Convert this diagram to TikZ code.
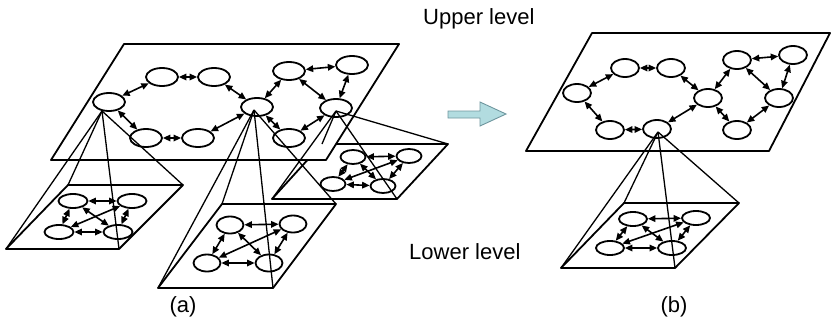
\documentclass[tikz,border=0pt]{standalone}
\usepackage{fontspec}
\setmainfont{Liberation Sans}
\usetikzlibrary{shapes.geometric,arrows.meta}
\definecolor{arrfill}{RGB}{178,220,224}
\definecolor{arrdraw}{RGB}{110,150,158}
\begin{document}
\begin{tikzpicture}[x=1pt,y=-1pt,
  nd/.style={ellipse,draw,fill=white,line width=1.8pt,inner sep=0pt},
  ua/.style={nd,minimum width=32pt,minimum height=18pt},
  ub/.style={nd,minimum width=28pt,minimum height=18pt},
  la/.style={nd,minimum width=29pt,minimum height=14pt},
  lb/.style={nd,minimum width=27pt,minimum height=17pt},
  lc/.style={nd,minimum width=25pt,minimum height=14pt},
  ld/.style={nd,minimum width=28pt,minimum height=14pt},
  lk/.style={{Triangle[length=7.5pt,width=6.5pt]}-{Triangle[length=7.5pt,width=6.5pt]},line width=1.6pt},
  plane/.style={draw,fill=white,line width=1.8pt,line join=round},
  pyr/.style={line width=1.3pt},
  lbl/.style={font=\fontsize{22}{26}\selectfont,inner sep=0pt}
]
\useasboundingbox (0,0) rectangle (831,322);

% ---------- planes ----------
\coordinate (q3a) at (322,144); \coordinate (q3b) at (448,144);
\coordinate (q3c) at (397,199); \coordinate (q3d) at (272,199);
\path[plane] (q3a) -- (q3b) -- (q3c) -- (q3d) -- cycle;

\coordinate (ua1) at (124,44); \coordinate (ua2) at (399,44);
\coordinate (ua3) at (326,160); \coordinate (ua4) at (51,160);
\path[plane] (ua1) -- (ua2) -- (ua3) -- (ua4) -- cycle;

\coordinate (q1a) at (68,185); \coordinate (q1b) at (183,185);
\coordinate (q1c) at (119,249); \coordinate (q1d) at (6,249);
\path[plane] (q1a) -- (q1b) -- (q1c) -- (q1d) -- cycle;

\coordinate (q2a) at (222,204); \coordinate (q2b) at (336,204);
\coordinate (q2c) at (273,288); \coordinate (q2d) at (158,288);
\path[plane] (q2a) -- (q2b) -- (q2c) -- (q2d) -- cycle;

\coordinate (ub1) at (592,33); \coordinate (ub2) at (830,33);
\coordinate (ub3) at (769,151); \coordinate (ub4) at (526,151);
\path[plane] (ub1) -- (ub2) -- (ub3) -- (ub4) -- cycle;

\coordinate (qba) at (624,203); \coordinate (qbb) at (739,203);
\coordinate (qbc) at (675,268); \coordinate (qbd) at (561,268);
\path[plane] (qba) -- (qbb) -- (qbc) -- (qbd) -- cycle;

% ---------- upper graph (a) ----------
\node[ua] (aL)  at (109,102) {};
\node[ua] (aT1) at (162,77) {};
\node[ua] (aT2) at (214,77) {};
\node[ua] (aM)  at (257,107) {};
\node[ua] (aB1) at (146,138) {};
\node[ua] (aB2) at (198,138) {};
\node[ua] (aU1) at (289,71) {};
\node[ua] (aU2) at (352,65) {};
\node[ua] (aR)  at (336,108) {};
\node[ua] (aD)  at (289,138) {};
\foreach \s/\t in {aL/aT1,aT1/aT2,aT2/aM,aM/aB2,aB2/aB1,aB1/aL,aM/aU1,aU1/aU2,aU2/aR,aU1/aR,aR/aD,aD/aM}
  \draw[lk] (\s) -- (\t);

% ---------- upper graph (b) ----------
\node[ub] (bL)  at (577,93) {};
\node[ub] (bT1) at (625,68) {};
\node[ub] (bT2) at (671,68) {};
\node[ub] (bM)  at (708,98) {};
\node[ub] (bB1) at (610,130) {};
\node[ub] (bB2) at (657,129) {};
\node[ub] (bU1) at (737,60) {};
\node[ub] (bU2) at (793,55) {};
\node[ub] (bR)  at (779,98) {};
\node[ub] (bD)  at (737,130) {};
\foreach \s/\t in {bL/bT1,bT1/bT2,bT2/bM,bM/bB2,bB2/bB1,bB1/bL,bM/bU1,bU1/bU2,bU2/bR,bU1/bR,bR/bD,bD/bM}
  \draw[lk] (\s) -- (\t);

% ---------- lower graphs ----------
\node[la] (p1a) at (73,201) {};
\node[la] (p1b) at (132,201) {};
\node[la] (p1c) at (59,232) {};
\node[la] (p1d) at (118,232) {};
\node[lb] (p2a) at (230,225) {};
\node[lb] (p2b) at (293,224) {};
\node[lb] (p2c) at (207,263) {};
\node[lb] (p2d) at (269,263) {};
\node[lc] (p3a) at (353,157) {};
\node[lc] (p3b) at (409,156) {};
\node[lc] (p3c) at (333,184) {};
\node[lc] (p3d) at (383,186) {};
\node[ld] (pba) at (633,219) {};
\node[ld] (pbb) at (696,218) {};
\node[ld] (pbc) at (610,248) {};
\node[ld] (pbd) at (672,248) {};
\foreach \g in {p1,p2,p3,pb}
  \foreach \s/\t in {a/b,a/c,a/d,b/c,b/d,c/d}
    \draw[lk] (\g\s) -- (\g\t);

% ---------- pyramids ----------
\coordinate (x1) at (102,111);
\coordinate (x2) at (254,110);
\coordinate (x3) at (336,111);
\coordinate (xb) at (658,132);
\foreach \c in {q1a,q1b,q1c,q1d} \draw[pyr] (x1) -- (\c);
\foreach \c in {q2a,q2b,q2c,q2d} \draw[pyr] (x2) -- (\c);
\foreach \c in {q3a,q3b,q3c,q3d} \draw[pyr] (x3) -- (\c);
\foreach \c in {qba,qbb,qbc,qbd} \draw[pyr] (xb) -- (\c);

% ---------- block arrow ----------
\draw[fill=arrfill,draw=arrdraw,line width=0.9pt,line join=miter]
  (448,111) -- (480,111) -- (480,102) -- (506,114) -- (480,126) -- (480,118) -- (448,118) -- cycle;

% ---------- labels ----------
\node[lbl,anchor=base west] (up) at (423,24) {Upper level};
\node[lbl,anchor=base west] (lo) at (409,259) {Lower level};
\node[lbl,anchor=base] (la) at (183,312) {(a)};
\node[lbl,anchor=base] (lb) at (674,312) {(b)};
\end{tikzpicture}
\end{document}
